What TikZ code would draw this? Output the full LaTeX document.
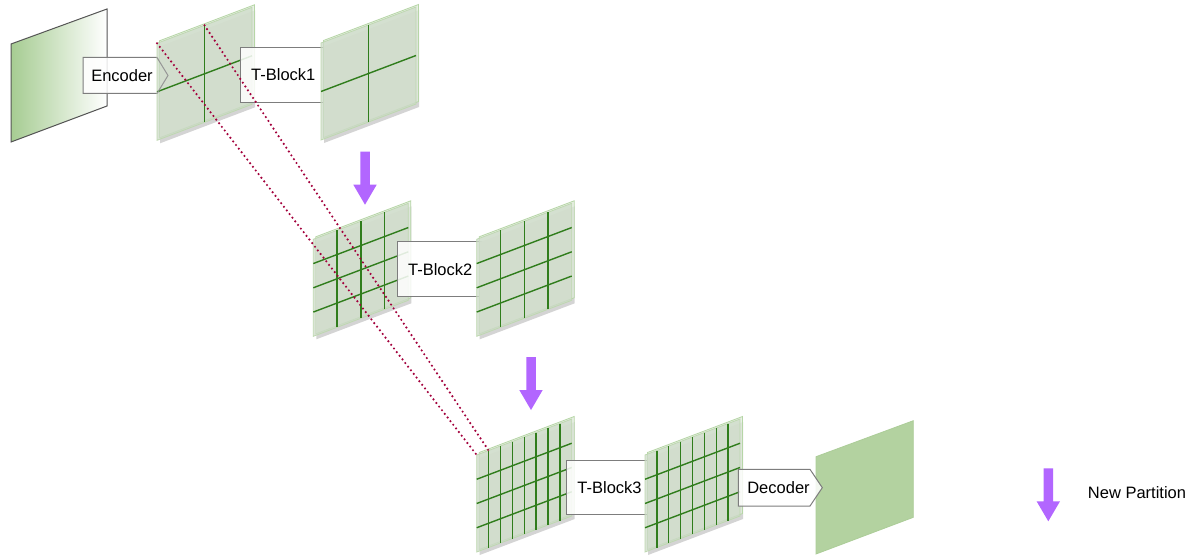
\documentclass[tikz,border=0pt]{standalone}
\usepackage{fontspec}
\setmainfont{Liberation Sans}
\tikzset{
 panelface/.style={fill={rgb,255:red,206;green,219;blue,201}, fill opacity=0.75, draw={rgb,255:red,190;green,216;blue,176}, draw opacity=1, line width=0.8pt},
 panelback/.style={fill={rgb,255:red,226;green,236;blue,222}, fill opacity=0.75, draw={rgb,255:red,182;green,214;blue,166}, line width=0.8pt},
 panelshadow/.style={fill={rgb,255:red,212;green,212;blue,212}},
 gridline/.style={draw={rgb,255:red,48;green,125;blue,28}, line width=1.4pt},
 boxstyle/.style={draw={rgb,255:red,125;green,125;blue,125}, line width=1pt, fill=white, fill opacity=0.85, text opacity=1},
 tipline/.style={draw={rgb,255:red,150;green,150;blue,150}, line width=1pt, line join=miter},
 lbl/.style={font=\fontsize{16.5}{20}\selectfont, text=black, inner sep=0pt},
 partition/.style={fill={rgb,255:red,178;green,102;blue,255}},
 link/.style={draw={rgb,255:red,163;green,0;blue,60}, line width=2.4pt, line cap=round, dash pattern=on 0pt off 4.6pt},
}
% #1 name, #2 x, #3 y (top-left corner), #4 columns, #5 rows
\newcommand\gpanel[5]{%
 \begin{scope}[shift={(#2,#3)}]
  \fill[panelshadow] (3,3) -- (98,-33) -- (98,64) -- (3,100) -- cycle;
  \path[panelback] (2.5,-2.5) -- (97.5,-38.5) -- (97.5,58.5) -- (2.5,94.5) -- cycle;
  \path[panelface] (0,0) -- (95,-36) -- (95,61) -- (0,97) -- cycle;
  \coordinate (#1) at (0,0);
  \coordinate (#1-v1) at ({95/#4},{-36/#4});
  \pgfmathtruncatemacro\gpnc{#4-1}
  \pgfmathtruncatemacro\gpnr{#5-1}
  \foreach \i in {1,...,\gpnc}{%
    \pgfmathsetmacro\gpxx{95*\i/#4}
    \draw[gridline] (\gpxx,{-36*\gpxx/95}) -- (\gpxx,{97-36*\gpxx/95});
  }
  \foreach \j in {1,...,\gpnr}{%
    \pgfmathsetmacro\gpyy{97*\j/#5}
    \draw[gridline] (0,\gpyy) -- (95,{\gpyy-36});
  }
 \end{scope}}
% #1 centre x, #2 top y
\newcommand\partarrow[2]{%
 \fill[partition] ({#1-4.75},#2) -- ({#1+4.75},#2) -- ({#1+4.75},{#2+33}) -- ({#1+11.7},{#2+33})
   -- (#1,{#2+53}) -- ({#1-11.7},{#2+33}) -- ({#1-4.75},{#2+33}) -- cycle;}
\begin{document}
\begin{tikzpicture}[x=1pt,y=-1pt]
\fill[white] (0,0) rectangle (1193,556);
\useasboundingbox (0,0) rectangle (1193,556);
% input image
\shadedraw[left color={rgb,255:red,166;green,204;blue,146}, right color=white,
  draw={rgb,255:red,85;green,85;blue,85}, line width=1pt]
  (11,44) -- (107,9) -- (107,106) -- (11,142) -- cycle;
% encoder
\path[boxstyle] (83,57.5) -- (157,57.5) -- (168,75.5) -- (157,93.5) -- (83,93.5) -- cycle;
\node[lbl] (enc) at (122,76) {Encoder};
% row 1
\gpanel{g1}{157}{43.3}{2}{2}
\draw[tipline] (157,57.5) -- (168,75.5) -- (157,93.5);
\node[boxstyle, lbl, minimum width=85.3pt, minimum height=54.6pt] (tb1) at (283.3,75) {T-Block1};
\gpanel{g2}{321}{43}{2}{2}
\partarrow{365}{151.7}
% row 2
\gpanel{g3}{313.3}{239.3}{4}{4}
\node[boxstyle, lbl, minimum width=85pt, minimum height=55pt] (tb2) at (440.2,269.2) {T-Block2};
\gpanel{g4}{476.7}{239.3}{4}{4}
\partarrow{531}{357}
% row 3
\gpanel{g5}{476.7}{455}{8}{4}
\node[boxstyle, lbl, minimum width=85.6pt, minimum height=54.3pt] (tb3) at (609.5,487.2) {T-Block3};
\gpanel{g6}{645}{455}{8}{4}
\filldraw[fill={rgb,255:red,179;green,210;blue,160}, draw={rgb,255:red,172;green,205;blue,152}, line width=0.8pt]
  (816,456.7) -- (913.3,420.7) -- (913.3,517.3) -- (816,554) -- cycle;
\path[boxstyle] (738.3,469.3) -- (810,469.3) -- (822.3,487.7) -- (810,506) -- (738.3,506) -- cycle;
\node[lbl] (dec) at (778.5,488) {Decoder};
% links
\draw[link] (g1) -- (g5);
\draw[link] (g1-v1) -- (g5-v1);
% legend
\partarrow{1048.3}{468.3}
\node[lbl] (legend) at (1137,493) {New Partition};
\end{tikzpicture}
\end{document}
